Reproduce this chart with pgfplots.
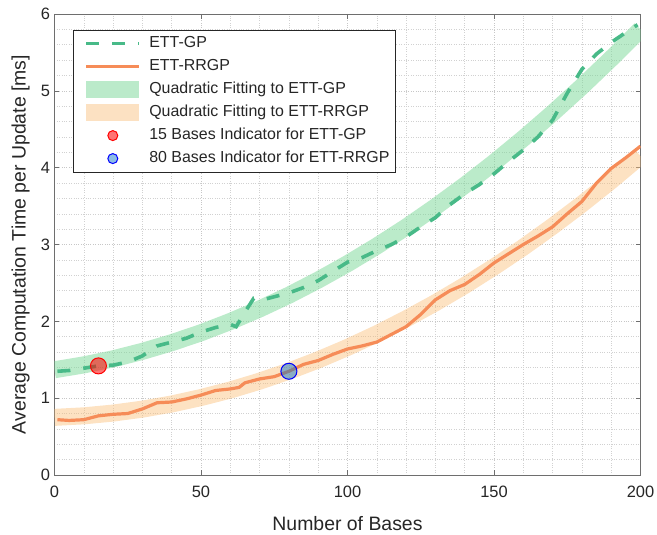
\documentclass[border=0pt]{standalone}
\usepackage{fontspec}
\setmainfont{Liberation Sans}
\usepackage{pgfplots}
\pgfplotsset{compat=1.18}

\definecolor{gpline}{RGB}{72,186,136}
\definecolor{gpband}{RGB}{120,215,150}
\definecolor{rrline}{RGB}{246,140,88}
\definecolor{rrband}{RGB}{250,190,120}
\definecolor{axgray}{RGB}{110,110,110}
\definecolor{txt}{RGB}{38,38,38}
\definecolor{bluefill}{RGB}{0,110,200}

\pgfplotsset{
  bandgp/.style={gpband, draw opacity=0.5, line width=17bp, line cap=butt, line join=round, no markers},
  bandrr/.style={rrband, draw opacity=0.45, line width=17bp, line cap=butt, line join=round, no markers},
  lineimg/.style={legend image code/.code={\draw[##1] (0bp,0bp) -- (53bp,0bp);}},
  markimg/.style={legend image code/.code={\draw[##1, mark size=5bp] plot coordinates {(26.5bp,0bp)};}},
}

% ETT-GP timing per number of bases
\pgfplotstableread{
x y
1 1.35
5 1.36
10 1.39
15 1.42
20 1.43
25 1.47
30 1.55
35 1.68
40 1.73
45 1.78
50 1.86
55 1.92
60 1.96
62 1.93
65 2.12
68 2.30
72 2.29
75 2.32
80 2.37
85 2.44
90 2.53
95 2.65
100 2.77
105 2.83
110 2.92
115 3.00
120 3.10
125 3.23
130 3.35
135 3.52
140 3.66
145 3.78
150 3.92
155 4.08
160 4.23
165 4.40
170 4.62
175 4.97
180 5.28
185 5.48
190 5.63
195 5.76
199 5.86
}\gpdata

% ETT-RRGP timing per number of bases
\pgfplotstableread{
x y
1 0.72
5 0.71
10 0.72
15 0.77
20 0.79
25 0.80
30 0.86
35 0.94
40 0.95
45 0.99
50 1.04
55 1.10
60 1.12
63 1.14
65 1.20
70 1.25
75 1.28
80 1.35
85 1.44
90 1.49
95 1.57
100 1.64
105 1.68
110 1.73
115 1.83
120 1.93
125 2.09
130 2.28
135 2.40
140 2.48
145 2.61
150 2.76
155 2.88
160 3.00
165 3.11
170 3.23
175 3.40
180 3.56
185 3.80
190 3.99
195 4.13
200 4.28
}\rrdata

% quadratic fits
\pgfplotstableread{
x y
0 1.370
10 1.433
20 1.512
30 1.609
40 1.722
50 1.851
60 1.998
70 2.161
80 2.340
90 2.537
100 2.750
110 2.980
120 3.226
130 3.490
140 3.770
150 4.066
160 4.380
170 4.710
180 5.056
190 5.420
200 5.800
}\gpfit

\pgfplotstableread{
x y
0 0.750
10 0.770
20 0.806
30 0.857
40 0.924
50 1.008
60 1.106
70 1.221
80 1.352
90 1.498
100 1.660
110 1.838
120 2.032
130 2.241
140 2.466
150 2.708
160 2.964
170 3.237
180 3.526
190 3.830
200 4.150
}\rrfit

\begin{document}
\begin{tikzpicture}
\begin{axis}[
  scale only axis,
  width=586bp, height=461bp,
  xmin=0, xmax=200, ymin=0, ymax=6,
  xtick={0,50,100,150,200},
  ytick={0,1,2,3,4,5,6},
  minor x tick num=4,
  minor y tick num=4,
  grid=both,
  major grid style={dotted, black!22, line width=0.5bp},
  minor grid style={dotted, black!18, line width=0.5bp},
  tick align=inside,
  major tick length=5bp,
  minor tick length=0bp,
  tick style={axgray, line width=0.6bp},
  axis line style={axgray, line width=0.8bp},
  /pgf/number format/assume math mode=true,
  ticklabel style={font=\fontsize{16.5}{19}\selectfont, text=txt},
  xticklabel style={yshift=-8bp},
  yticklabel style={xshift=-1bp},
  xlabel={Number of Bases},
  ylabel={Average Computation Time per Update [ms]},
  label style={font=\fontsize{19.5}{23}\selectfont, text=txt},
  xlabel style={at={(axis description cs:0.5,-0.105)}, anchor=center},
  ylabel style={at={(axis description cs:-0.058,0.5)}, anchor=center},
  legend cell align=left,
  legend style={
    at={(0.0316,0.9653)}, anchor=north west,
    draw=black!85, line width=0.6bp, fill=white,
    font=\fontsize{16}{19}\selectfont, text=txt,
    inner xsep=4.5bp, inner ysep=3.3bp,
    nodes={inner xsep=1.5bp, inner ysep=2bp, text height=12bp, text depth=4bp},
    row sep=3bp,
  },
]
\addplot[bandgp, forget plot] table {\gpfit};
\addplot[bandrr, forget plot] table {\rrfit};

\addplot[gpline, line width=3.6bp, dash pattern=on 13bp off 13bp, lineimg] table {\gpdata};
\addlegendentry{ETT-GP}
\addplot[rrline, line width=3.2bp, lineimg] table {\rrdata};
\addlegendentry{ETT-RRGP}

\addlegendimage{bandgp, lineimg}
\addlegendentry{Quadratic Fitting to ETT-GP}
\addlegendimage{bandrr, lineimg}
\addlegendentry{Quadratic Fitting to ETT-RRGP}

\addplot[only marks, mark=*, mark size=8bp, draw=red, line width=1bp, fill=red, fill opacity=0.55, markimg] coordinates {(15,1.42)};
\addlegendentry{15 Bases Indicator for ETT-GP}
\addplot[only marks, mark=*, mark size=8bp, draw=blue, line width=1bp, fill=bluefill, fill opacity=0.45, markimg] coordinates {(80,1.35)};
\addlegendentry{80 Bases Indicator for ETT-RRGP}
\end{axis}
\pgfresetboundingbox
\path ([xshift=-54.5bp,yshift=-60bp]current axis.south west) rectangle ([xshift=16.5bp,yshift=14bp]current axis.north east);
\end{tikzpicture}
\end{document}
